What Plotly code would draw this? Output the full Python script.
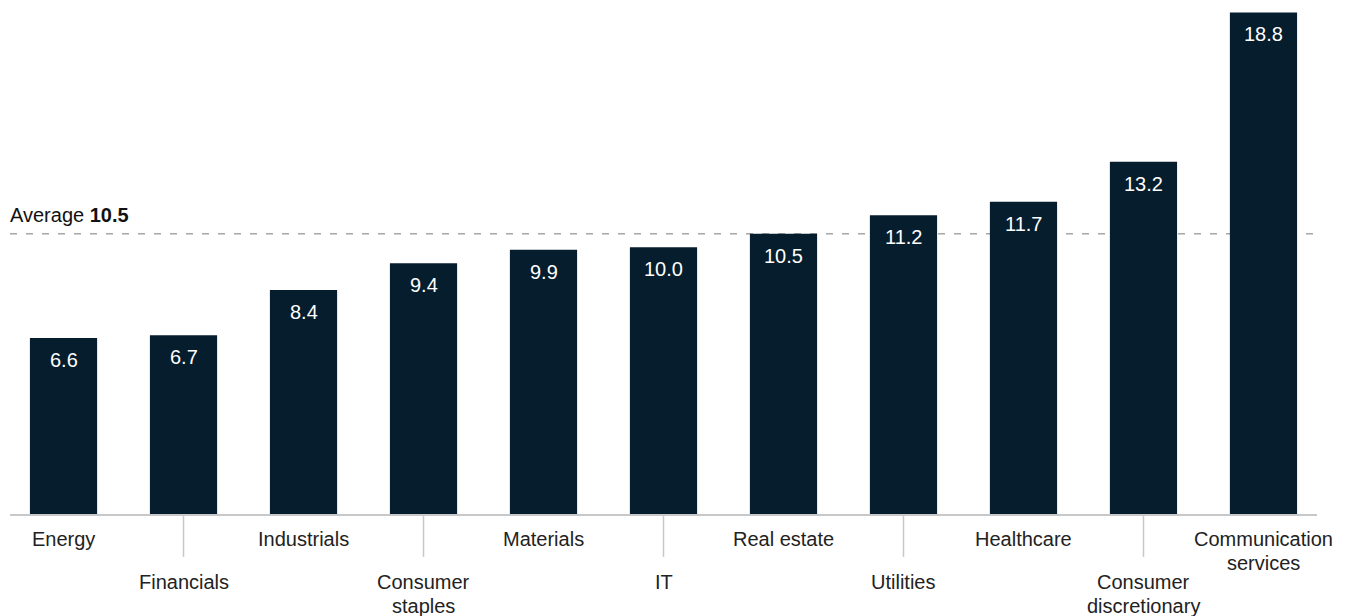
import plotly.graph_objects as go

categories = ["Energy", "Financials", "Industrials", "Consumer staples", "Materials", "IT",
              "Real estate", "Utilities", "Healthcare", "Consumer discretionary",
              "Communication services"]
values = [6.6, 6.7, 8.4, 9.4, 9.9, 10.0, 10.5, 11.2, 11.7, 13.2, 18.8]
tick_labels = ["Energy", "Financials", "Industrials", "Consumer<br>staples", "Materials", "IT",
               "Real estate", "Utilities", "Healthcare", "Consumer<br>discretionary",
               "Communication<br>services"]
average = 10.5

BAR = "#061D2D"
FONT = "Liberation Sans, Arial, sans-serif"
FS = 20
PLOT_H = 616 - 10 - 102

fig = go.Figure()
fig.add_trace(go.Bar(x=categories, y=values, marker_color=BAR, marker_line_width=0,
                     hoverinfo="skip"))

annotations = []
for i, (c, v) in enumerate(zip(categories, values)):
    annotations.append(dict(x=c, y=v, xref="x", yref="y", text=f"{v:.1f}", showarrow=False,
                            yanchor="middle", yshift=-22,
                            font=dict(family=FONT, size=FS, color="white")))
    first = 24.5 if i % 2 == 0 else 67.5
    for k, line in enumerate(tick_labels[i].split("<br>")):
        annotations.append(dict(x=c, y=0, xref="x", yref="paper", text=line,
                                showarrow=False, yanchor="middle", borderpad=0,
                                yshift=-(first + 24.5 * k),
                                font=dict(family=FONT, size=FS, color="#222222")))

annotations.append(dict(x=0, y=average, xref="paper", yref="y", xanchor="left",
                        yanchor="middle", yshift=19, xshift=-2, showarrow=False,
                        text=f"Average <b>{average}</b>",
                        font=dict(family=FONT, size=FS, color="#111111")))

shapes = [dict(type="line", xref="paper", yref="y", x0=0, x1=1, y0=average, y1=average,
               line=dict(color="#A6A6A6", width=1.5, dash="7px,9px"), layer="below")]
for i, c in enumerate(categories):
    if i % 2 == 1:
        shapes.append(dict(type="line", xref="x", yref="paper", x0=i, x1=i,
                           y0=0, y1=-43 / PLOT_H, line=dict(color="#C8C8C8", width=1.5)))

fig.update_layout(
    width=1347, height=616,
    margin=dict(l=10, r=30, t=10, b=102),
    paper_bgcolor="white", plot_bgcolor="white",
    bargap=0.44, showlegend=False,
    annotations=annotations, shapes=shapes,
    xaxis=dict(showticklabels=False, ticks="", showgrid=False, zeroline=False,
               showline=True, linecolor="#C8C8C8", linewidth=2,
               range=[-0.446, 10.446], fixedrange=True),
    yaxis=dict(visible=False, showgrid=False, zeroline=False,
               range=[0, PLOT_H / 26.68], fixedrange=True),
)

fig.write_html("out.html", config={"displayModeBar": False},
               post_script="document.body.style.margin='0';document.body.style.overflow='hidden';")
